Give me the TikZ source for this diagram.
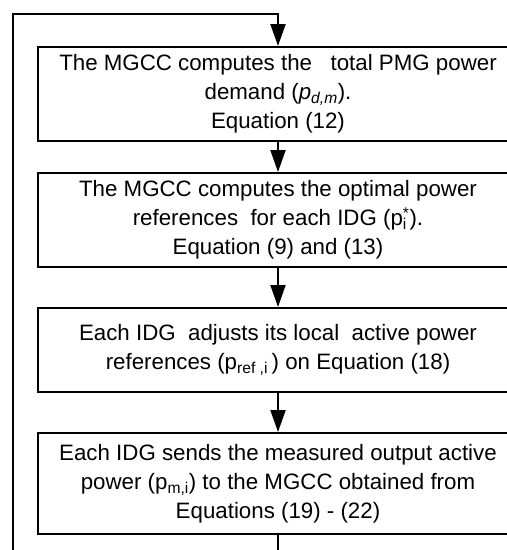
\documentclass[tikz,border=0pt]{standalone}
\usepackage{fontspec}
\setmainfont{Liberation Sans}
\usetikzlibrary{arrows.meta}
\newcommand{\psubsup}[2]{p\makebox[0pt][l]{\textsubscript{#1}}\textsuperscript{#2}}

\begin{document}
\begin{tikzpicture}[x=1pt, y=-1pt, line width=2pt,
		box/.style={draw, rectangle, minimum width=480pt, align=center, inner sep=0pt,
			font=\fontsize{22.3}{29}\selectfont},
		flow/.style={-{Triangle[width=15pt,length=22pt]}}]
			%%%%% START %%%%%
			
			\useasboundingbox (0, 0) rectangle (507, 550);
			
			\node[box, minimum height=94pt] (demand) at (278, 94)
				{The MGCC computes the\ \ \ total PMG power\\
				 demand (\textit{p}\textsubscript{\textit{d,m}}).\\
				 Equation (12)};
			
			\node[box, minimum height=94pt] (optimal) at (278, 220)
				{The MGCC computes the optimal power\\
				 references\ \ for each IDG (\psubsup{i}{*}).\\
				 Equation (9) and (13)};
			
			\node[box, minimum height=84pt] (adjust) at (278, 350)
				{Each IDG\ \ adjusts its local\ \ active power\\
				 references (p\textsubscript{ref ,i}\,) on Equation (18)};
			
			\node[box, minimum height=101pt] (measure) at (278, 483.5)
				{Each IDG sends the measured output active\\
				 power (p\textsubscript{m,i}) to the MGCC obtained from\\
				 Equations (19) - (22)};
			
			\coordinate (loopout) at (278, 552);
			\coordinate (loopleft) at (13, 552);
			\coordinate (looptop) at (278, 14);
			
			\draw[flow] (demand) -- (optimal);
			\draw[flow] (optimal) -- (adjust);
			\draw[flow] (adjust) -- (measure);
			
			\draw (measure) -- (loopout);
			\draw[flow] (loopleft) |- (looptop) -- (demand);
			
			%%%%% END %%%%%
\end{tikzpicture}
\end{document}
